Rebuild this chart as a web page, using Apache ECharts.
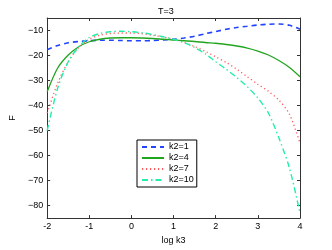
<!DOCTYPE html>
<html><head><meta charset="utf-8">
<script src="https://cdn.jsdelivr.net/npm/echarts@6/dist/echarts.min.js"></script>
<style>html,body{margin:0;padding:0;background:#fff}#c{width:332px;height:250px}</style>
</head><body><div id="c"></div>
<script>
const xVals = [-2,-1.75,-1.5,-1.25,-1,-0.75,-0.5,-0.25,0,0.25,0.5,0.75,1,1.25,1.5,1.75,2,2.25,2.5,2.75,3,3.25,3.5,3.75,4];
const k2_1  = [-17.7,-16.0,-14.9,-14.4,-14.1,-13.9,-13.9,-14.0,-14.1,-14.1,-14.0,-13.8,-13.5,-13.0,-12.3,-11.3,-10.4,-9.5,-8.8,-8.3,-7.8,-7.5,-7.4,-7.9,-9.5];
const k2_4  = [-34.5,-25.0,-19.8,-16.5,-14.5,-13.5,-13.0,-12.9,-12.9,-13.0,-13.2,-13.5,-13.8,-14.1,-14.4,-14.8,-15.1,-15.6,-16.2,-17.0,-18.2,-19.8,-22.0,-24.8,-28.5];
const k2_7  = [-43,-31,-22.5,-16.8,-13.5,-11.9,-11.2,-11.0,-11.0,-11.3,-11.9,-12.6,-13.6,-14.8,-16.4,-18.3,-20.5,-22.8,-25.5,-28.5,-31.5,-34.3,-37.8,-43.5,-55];
const k2_10 = [-50,-33,-22.5,-16.5,-12.8,-11.2,-10.5,-10.3,-10.5,-10.9,-11.6,-12.5,-13.5,-14.8,-16.8,-19.3,-22.5,-25.5,-28.8,-32.5,-37,-43,-53,-65,-83];
const seriesNames = ['k2=1','k2=4','k2=7','k2=10'];
const titleText = 'T=3';
const xName = 'log k3';
const yName = 'F';

const font = 'Liberation Sans, Arial, sans-serif';
const pair = a => xVals.map((x,i)=>[x,a[i]]);
const chart = echarts.init(document.getElementById('c'), null, {renderer:'canvas'});
const axisCol = '#333';
const mk = (name, data, color, type, width) => ({
  name, type:'line', data: pair(data), smooth:0.3, showSymbol:false, symbol:'none',
  xAxisIndex:0, yAxisIndex:0,
  lineStyle:{color, type, width}, itemStyle:{color}
});
const line = {onZero:false, lineStyle:{color:axisCol}};
chart.setOption({
  animation:false,
  title:{text:titleText, left:'center', top:2, textStyle:{fontFamily:font,fontSize:9,fontWeight:'normal',color:'#000'}},
  grid:{left:43, right:32, top:18, bottom:28},
  xAxis:[
    {type:'value', min:-2, max:4, interval:1, name:xName, nameLocation:'middle', nameGap:16,
     nameTextStyle:{fontFamily:font,fontSize:9,color:'#000'},
     axisLine:line, axisTick:{inside:true,length:3,lineStyle:{color:axisCol}},
     axisLabel:{fontFamily:font,fontSize:9,color:'#000',margin:4}, splitLine:{show:false}},
    {type:'value', position:'top', min:-2, max:4, interval:1,
     axisLine:line, axisTick:{inside:true,length:3,lineStyle:{color:axisCol}},
     axisLabel:{show:false}, splitLine:{show:false}}
  ],
  yAxis:[
    {type:'value', min:-85, max:-5, splitNumber:8, name:yName, nameLocation:'middle', nameGap:24, nameRotate:90,
     nameTextStyle:{fontFamily:font,fontSize:9,color:'#000'},
     axisLine:Object.assign({show:true},line), axisTick:{inside:true,length:3,lineStyle:{color:axisCol}},
     axisLabel:{fontFamily:font,fontSize:9,color:'#000',margin:4,formatter:v=> (v%10===0? String(v).replace('-','\u2212'):'')},
     splitLine:{show:false}},
    {type:'value', position:'right', min:-85, max:-5, splitNumber:8,
     axisLine:Object.assign({show:true},line), axisTick:{inside:true,length:3,lineStyle:{color:axisCol}},
     axisLabel:{show:false}, splitLine:{show:false}}
  ],
  legend:{orient:'vertical', left:137, top:140, itemWidth:22, itemHeight:6, itemGap:1,
    padding:[2,3,2,4], borderColor:'#000', borderWidth:1, backgroundColor:'#fff',
    itemStyle:{opacity:0},
    textStyle:{fontFamily:font,fontSize:9,color:'#000',lineHeight:10}, data:seriesNames},
  series:[
    mk(seriesNames[0], k2_1, '#2244ff', [5,4], 1.6),
    mk(seriesNames[1], k2_4, '#22a51e', 'solid', 1.3),
    mk(seriesNames[2], k2_7, '#ff5a5a', [1.2,2.8], 1.3),
    mk(seriesNames[3], k2_10, '#22eeaa', [6,3,1.5,3], 1.4)
  ]
});
</script></body></html>
